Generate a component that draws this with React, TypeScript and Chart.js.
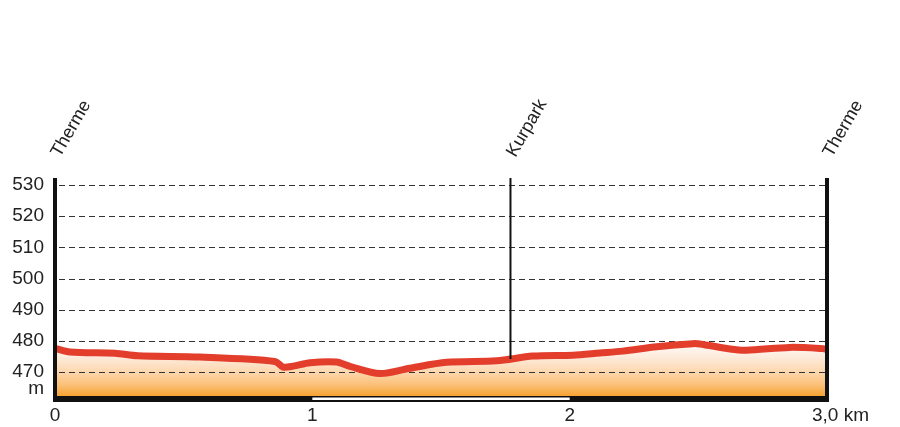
import React, { useEffect, useRef } from "react";
import { Chart, registerables } from "chart.js";

Chart.register(...registerables);

// Profile data
const distanceKm = [0, 0.058, 0.233, 0.322, 0.563, 0.855, 0.886, 0.925, 0.991, 1.094, 1.146, 1.263, 1.379, 1.522, 1.716, 1.857, 2.012, 2.117, 2.206, 2.338, 2.479, 2.506, 2.623, 2.687, 2.855, 2.984, 3.0];
const elevationM = [477.6, 476.4, 476.0, 475.2, 474.8, 473.4, 471.6, 471.9, 473.0, 473.2, 471.8, 469.5, 471.2, 473.1, 473.6, 475.1, 475.4, 476.1, 476.7, 478.1, 479.1, 479.0, 477.4, 477.0, 477.9, 477.5, 477.2];

const yTicks = [470, 480, 490, 500, 510, 520, 530];
const yMin = 462.3;
const yMax = 532.25;
const xTicks = [0, 1, 2, 3];
const xTickLabels = ["0", "1", "2", "3,0 km"];
const waypointKm = [0, 1.77, 3.0];
const waypointNames = ["Therme", "Kurpark", "Therme"];
const unitLabel = "m";

const FONT = "'Liberation Sans', Arial, sans-serif";

export default function App() {
  const canvasRef = useRef<HTMLCanvasElement | null>(null);

  useEffect(() => {
    document.body.style.margin = "0";
    const canvas = canvasRef.current;
    if (!canvas) return;

    const points = distanceKm.map((x, i) => ({ x, y: elevationM[i] }));

    const interp = (km: number) => {
      for (let i = 0; i < distanceKm.length - 1; i++) {
        if (km >= distanceKm[i] && km <= distanceKm[i + 1]) {
          const t = (km - distanceKm[i]) / (distanceKm[i + 1] - distanceKm[i]);
          return elevationM[i] + t * (elevationM[i + 1] - elevationM[i]);
        }
      }
      return elevationM[elevationM.length - 1];
    };

    const decor = {
      id: "decor",
      afterDatasetDraw(chart: any, args: any) {
        if (args.index !== 1) return;
        const { ctx, chartArea, scales } = chart;
        ctx.save();
        ctx.strokeStyle = "#333";
        ctx.lineWidth = 1;
        ctx.setLineDash([6, 4]);
        yTicks.forEach((v) => {
          const y = Math.round(scales.y.getPixelForValue(v)) + 0.5;
          ctx.beginPath();
          ctx.moveTo(chartArea.left + 4, y);
          ctx.lineTo(chartArea.right - 2, y);
          ctx.stroke();
        });
        ctx.restore();
      },
      afterDraw(chart: any) {
        const { ctx, chartArea, scales } = chart;
        const xs = scales.x;
        const ys = scales.y;
        ctx.save();
        // waypoint line (middle)
        const kx = xs.getPixelForValue(waypointKm[1]);
        ctx.strokeStyle = "#111";
        ctx.lineWidth = 2;
        ctx.beginPath();
        ctx.moveTo(kx, chartArea.top);
        ctx.lineTo(kx, ys.getPixelForValue(interp(waypointKm[1])));
        ctx.stroke();

        // frame bars
        const left = xs.getPixelForValue(0);
        const right = xs.getPixelForValue(3);
        const bottom = chartArea.bottom;
        ctx.fillStyle = "#111";
        ctx.fillRect(left - 2, chartArea.top, 4, bottom + 6 - chartArea.top);
        ctx.fillRect(right - 2, chartArea.top, 4, bottom + 6 - chartArea.top);
        ctx.fillRect(left - 2, bottom, right - left + 4, 6);
        // white km segment
        const x1 = xs.getPixelForValue(1);
        const x2 = xs.getPixelForValue(2);
        ctx.fillStyle = "#fff";
        ctx.fillRect(x1, bottom + 1.5, x2 - x1, 2.5);

        // texts
        ctx.fillStyle = "#222";
        ctx.font = `19px ${FONT}`;
        ctx.textBaseline = "alphabetic";
        xTicks.forEach((v, i) => {
          const px = xs.getPixelForValue(v);
          if (i === xTicks.length - 1) {
            ctx.textAlign = "left";
            ctx.fillText(xTickLabels[i], px - 15, 421);
          } else {
            ctx.textAlign = "center";
            ctx.fillText(xTickLabels[i], px, 421);
          }
        });
        ctx.textAlign = "right";
        ctx.fillText(unitLabel, 44, 394);

        ctx.font = `18px ${FONT}`;
        ctx.textAlign = "left";
        waypointKm.forEach((km, i) => {
          const px = xs.getPixelForValue(km);
          ctx.save();
          ctx.translate(px + 5, 158);
          ctx.rotate(-Math.PI / 3);
          ctx.fillText(waypointNames[i], 0, 0);
          ctx.restore();
        });
        ctx.restore();
      },
    };

    const chart = new Chart(canvas, {
      type: "line",
      data: {
        datasets: [
          {
            data: points,
            borderColor: "#e33d2c",
            borderWidth: 7,
            borderCapStyle: "round",
            borderJoinStyle: "round",
            pointRadius: 0,
            fill: false,
            tension: 0.3,
          },
          {
            data: points,
            borderWidth: 0,
            pointRadius: 0,
            tension: 0.3,
            fill: "start",
            backgroundColor: (c: any) => {
              const { chart } = c;
              const area = chart.chartArea;
              if (!area) return "#fbbf75";
              const g = chart.ctx.createLinearGradient(0, 340, 0, area.bottom);
              g.addColorStop(0, "#ffffff");
              g.addColorStop(0.3, "#fdebdc");
              g.addColorStop(0.55, "#fdd9b3");
              g.addColorStop(0.8, "#fbc078");
              g.addColorStop(1, "#f7a232");
              return g;
            },
          },
        ],
      },
      options: {
        animation: false,
        responsive: false,
        layout: { padding: { top: 178, right: 73, bottom: 31, left: 0 } },
        plugins: { legend: { display: false }, tooltip: { enabled: false } },
        scales: {
          x: { type: "linear", min: 0, max: 3, display: false },
          y: {
            min: yMin,
            max: yMax,
            afterBuildTicks: (s: any) => {
              s.ticks = yTicks.map((v) => ({ value: v }));
            },
            afterFit: (s: any) => {
              s.width = 55;
            },
            grid: { display: false, drawTicks: false },
            border: { display: false },
            ticks: {
              padding: 11,
              color: "#222",
              font: { family: FONT, size: 19 },
            },
          },
        },
      },
      plugins: [decor],
    });

    return () => chart.destroy();
  }, []);

  return (
    <div style={{ width: 900, height: 427 }}>
      <canvas ref={canvasRef} width={900} height={427} />
    </div>
  );
}
